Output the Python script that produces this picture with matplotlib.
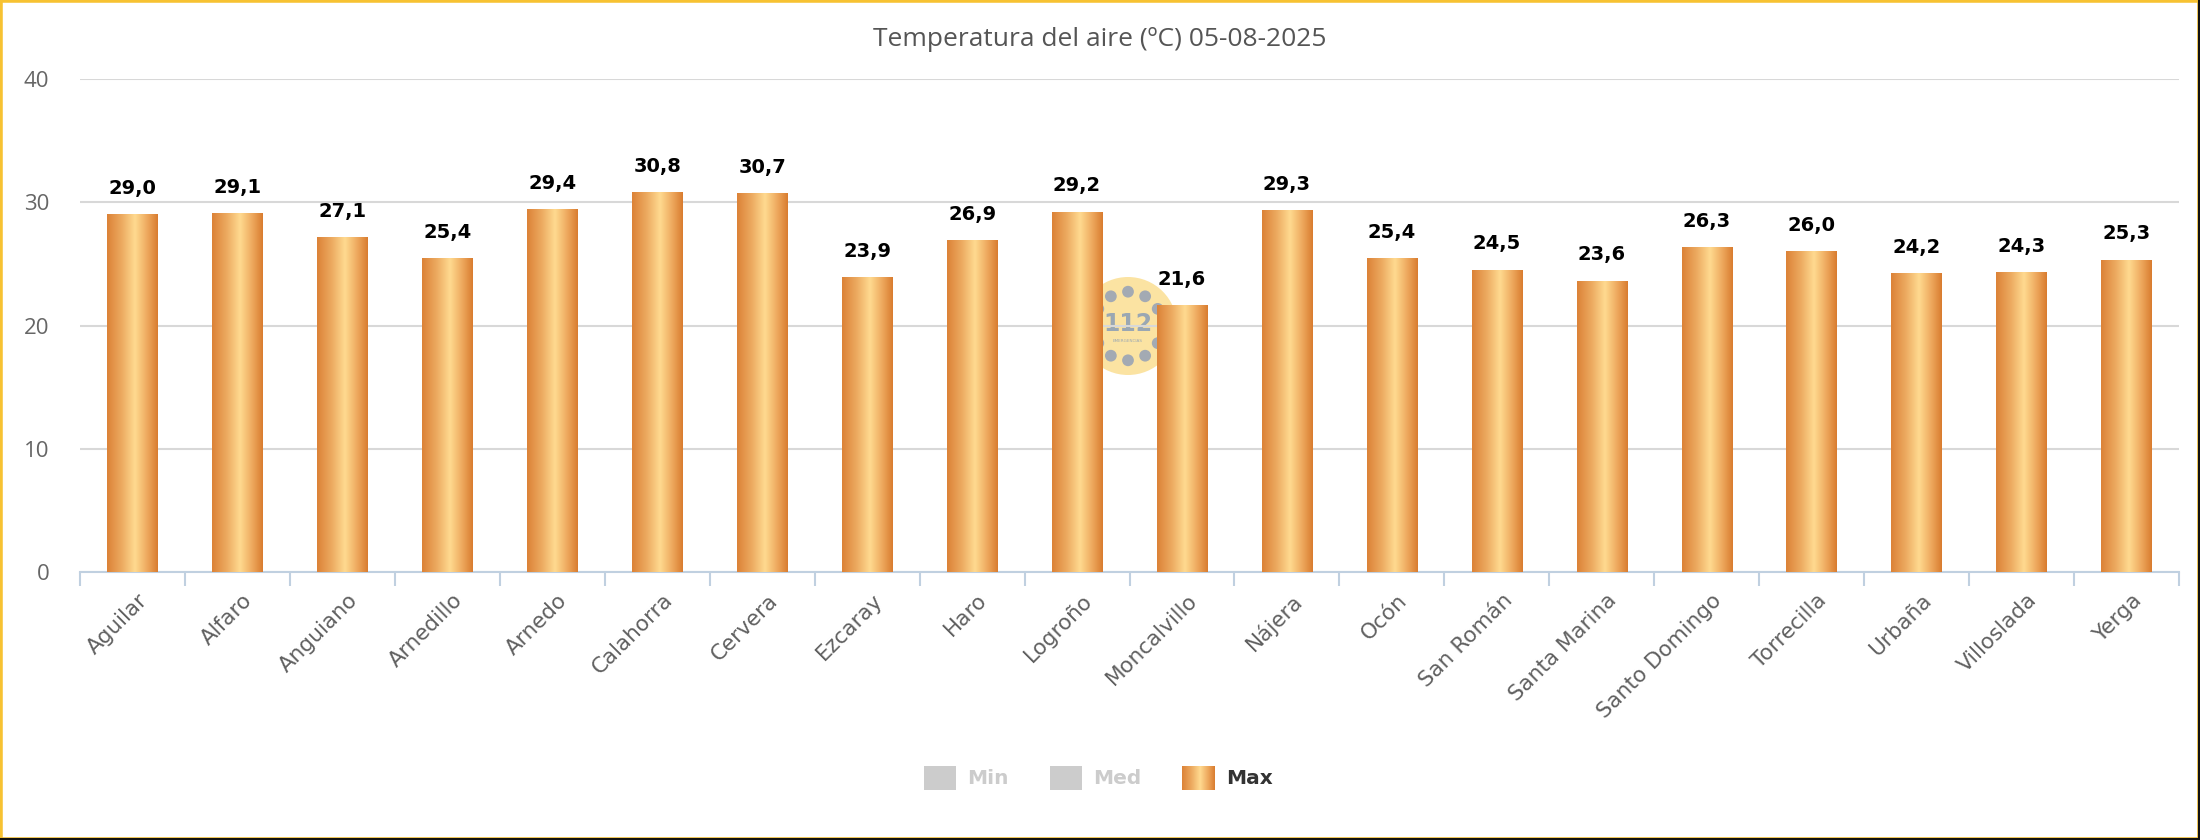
import numpy as np
import matplotlib
matplotlib.use("Agg")
import matplotlib.pyplot as plt
from matplotlib import font_manager
from matplotlib.colors import LinearSegmentedColormap
from matplotlib.patches import Rectangle, Circle
from matplotlib.transforms import ScaledTranslation

# ---------------- data ----------------
stations = ["Aguilar", "Alfaro", "Anguiano", "Arnedillo", "Arnedo", "Calahorra",
            "Cervera", "Ezcaray", "Haro", "Logroño", "Moncalvillo", "Nájera",
            "Ocón", "San Román", "Santa Marina", "Santo Domingo", "Torrecilla",
            "Urbaña", "Villoslada", "Yerga"]
max_temp = [29.0, 29.1, 27.1, 25.4, 29.4, 30.8, 30.7, 23.9, 26.9, 29.2,
            21.6, 29.3, 25.4, 24.5, 23.6, 26.3, 26.0, 24.2, 24.3, 25.3]
y_ticks = [0, 10, 20, 30, 40]
legend_labels = ["Min", "Med", "Max"]
title = "Temperatura del aire (ºC) 05-08-2025"

# ---------------- fonts ----------------
names = set(font_manager.get_font_names())
narrow = None
for cand in ["Liberation Sans Narrow", "DejaVu Sans Condensed", "Open Sans"]:
    if cand in names:
        narrow = cand
        break
if narrow is None:
    narrow = "DejaVu Sans"
plt.rcParams["font.family"] = ["DejaVu Sans"]

W, H = 2200, 840
fig = plt.figure(figsize=(W / 100, H / 100), dpi=100)
fig.patch.set_facecolor("white")

def fx(px):
    return px / W

def fy(py):
    return 1 - py / H

# ---------------- watermark (112 logo) ----------------
cx, cy, r = 1128, 326, 49
wax = fig.add_axes([fx(cx - r), fy(cy + r), fx(2 * r), (2 * r) / H], zorder=0)
wax.set_xlim(-1, 1); wax.set_ylim(-1, 1); wax.axis("off")
wax.add_patch(Circle((0, 0), 1.0, color="#FBE3A2", lw=0))
for ang in [60, 90, 120, 150, 210, 240, 270, 300, 330, 30]:
    a = np.deg2rad(ang)
    wax.add_patch(Circle((0.7 * np.cos(a), 0.7 * np.sin(a)), 0.12, color="#A3AAB3", lw=0))
wax.text(0, 0.05, "112", ha="center", va="center", fontsize=17, fontweight="bold", color="#9AA7B3")
wax.text(0, -0.3, "EMERGENCIAS", ha="center", va="center", fontsize=3, color="#9AA7B3")

# ---------------- main axes ----------------
ax = fig.add_axes([fx(80), fy(572), fx(2179 - 80), (572 - 79) / H], zorder=1)
ax.patch.set_alpha(0)

x = np.arange(len(stations))
bars = ax.bar(x, max_temp, width=0.48, color="none", edgecolor="none", zorder=3)

cmap = LinearSegmentedColormap.from_list(
    "g", [(0, "#DC8237"), (0.3, "#EDAC62"), (0.55, "#FFDA90"), (0.8, "#EDA75C"), (1, "#D97C2F")])
grad = np.linspace(0, 1, 256).reshape(1, -1)
for b in bars:
    x0, w, h = b.get_x(), b.get_width(), b.get_height()
    ax.imshow(grad, extent=[x0, x0 + w, 0, h], aspect="auto", cmap=cmap, zorder=3,
              interpolation="bilinear")

for b, v in zip(bars, max_temp):
    ax.annotate(f"{v:.1f}".replace(".", ","), (b.get_x() + b.get_width() / 2, b.get_height()),
                xytext=(0, 15), textcoords="offset points", ha="center", va="baseline",
                fontsize=14, fontweight="bold", color="#000000", zorder=5)

ax.set_xlim(-0.5, len(stations) - 0.5)
ax.set_ylim(0, 40)
ax.set_yticks(y_ticks)
ax.grid(axis="y", color="#D8D8D8", lw=1.5, zorder=0)
ax.set_axisbelow(True)
for s in ["left", "top", "right"]:
    ax.spines[s].set_visible(False)
ax.spines["bottom"].set_color("#C0D0E0")
ax.spines["bottom"].set_linewidth(1.5)

ax.tick_params(axis="y", length=0, pad=22, labelsize=16, labelcolor="#666666")
for lab in ax.get_yticklabels():
    lab.set_fontfamily(narrow)

ax.set_xticks(x)
ax.set_xticklabels(stations)
ax.set_xticks(np.arange(-0.5, len(stations)), minor=True)
ax.tick_params(axis="x", which="major", length=0, pad=13, labelsize=15.5, labelcolor="#606060")
ax.tick_params(axis="x", which="minor", length=10, width=1.5, color="#C0D0E0")
off = ScaledTranslation(5 / 100, 0, fig.dpi_scale_trans)
for lab in ax.get_xticklabels():
    lab.set_rotation(45)
    lab.set_ha("right")
    lab.set_va("top")
    lab.set_rotation_mode("anchor")
    lab.set_transform(lab.get_transform() + off)

# ---------------- title ----------------
fig.text(0.5, fy(39), title, ha="center", va="center", fontsize=19, color="#555555",
         family=narrow)

# ---------------- legend ----------------
ly0, ly1 = 766, 790
items = [(924, 967, "#CCCCCC", "#CCCCCC"), (1050, 1093, "#CCCCCC", "#CCCCCC"),
         (1182, 1226, None, "#333333")]
for (sx, tx, fc, tc), lab in zip(items, legend_labels):
    if fc is not None:
        fig.patches.append(Rectangle((fx(sx), fy(ly1)), fx(32), (ly1 - ly0) / H,
                                     transform=fig.transFigure, color=fc, lw=0))
    else:
        lax = fig.add_axes([fx(sx), fy(ly1), fx(33), (ly1 - ly0) / H])
        lax.imshow(grad, aspect="auto", cmap=cmap, interpolation="bilinear")
        lax.axis("off")
    fig.text(fx(tx), fy((ly0 + ly1) / 2), lab, ha="left", va="center", fontsize=14.5,
             fontweight="bold", color=tc)

# ---------------- border ----------------
fig.patches.append(Rectangle((0, 0), 1, 1, transform=fig.transFigure, fill=False,
                             edgecolor="#F7C232", lw=4))
fig.add_artist(plt.Line2D([0, 1], [fy(839), fy(839)], transform=fig.transFigure,
                          color="#111111", lw=1.5))
fig.add_artist(plt.Line2D([fx(2199), fx(2199)], [0, 1], transform=fig.transFigure,
                          color="#111111", lw=1.5))

fig.savefig("out.png", dpi=100)
